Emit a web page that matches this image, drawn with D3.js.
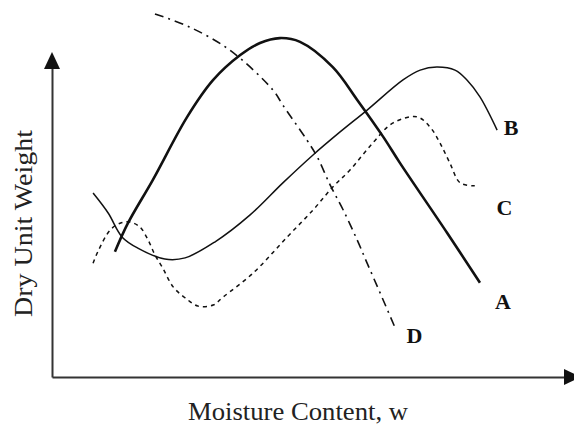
<!DOCTYPE html>
<html>
<head>
<meta charset="utf-8">
<script src="https://cdn.jsdelivr.net/npm/d3@7"></script>
<style>
  html, body { margin: 0; padding: 0; background: #fff; }
  svg { display: block; }
</style>
</head>
<body>
<div id="chart"></div>
<script>
// compaction curves (arbitrary units, x: 0-100, y: 0-100)
var curveA_w = [12.1, 14.6, 19.4, 26.0, 31.0, 36.2, 40.0, 43.8, 47.7, 54.0, 58.7, 63.7, 66.9, 76.0, 82.3];
var curveA_g = [33.2, 40.8, 52.3, 69.0, 78.8, 85.4, 88.6, 89.9, 88.9, 82.2, 73.5, 63.7, 56.8, 38.2, 25.0];

var curveB_w = [7.9, 10.8, 13.5, 16.5, 21.7, 25.6, 31.3, 38.1, 44.4, 50.2, 55.4, 60.6, 67.5, 70.8, 74.0, 77.5, 79.8, 82.3, 85.6];
var curveB_g = [48.8, 43.5, 37.1, 34.2, 31.3, 31.6, 35.8, 43.0, 51.5, 58.9, 65.0, 70.8, 78.8, 81.4, 82.2, 81.4, 78.8, 74.3, 65.5];

var curveC_w = [7.9, 8.8, 11.2, 13.1, 15.0, 16.9, 18.5, 19.8, 21.3, 23.3, 25.6, 28.1, 31.0, 32.9, 38.7, 45.2, 50.2, 54.0, 57.3, 61.7, 65.6, 70.2, 72.7, 74.6, 76.5, 78.5, 81.3];
var curveC_g = [30.2, 33.2, 39.0, 40.8, 41.1, 39.8, 36.3, 32.4, 28.9, 23.9, 21.0, 18.8, 19.1, 21.2, 27.6, 37.1, 44.3, 50.4, 54.9, 62.1, 67.4, 69.0, 66.3, 62.1, 56.8, 51.5, 50.7];

var curveD_w = [19.8, 26.5, 34.2, 42.5, 44.4, 49.0, 51.0, 53.5, 56.0, 58.7, 60.6, 63.1, 66.0];
var curveD_g = [96.3, 92.8, 86.7, 76.1, 72.1, 62.9, 58.4, 50.9, 44.3, 36.3, 30.2, 22.3, 13.0];

var curveNames = ["A", "B", "C", "D"];
// label anchor points (same units)
var labelW = [86.7, 88.3, 87.0, 69.7];
var labelG = [18.0, 64.2, 43.0, 9.0];

var xTitle = "Moisture Content, w";
var yTitle = "Dry Unit Weight";

var width = 574, height = 425;

var svg = d3.select("#chart").append("svg")
    .attr("width", width)
    .attr("height", height);

var x = d3.scaleLinear().domain([0, 100]).range([52, 572]);
var y = d3.scaleLinear().domain([0, 100]).range([377, 0]);

// axes, no ticks
svg.append("g")
    .attr("transform", "translate(0," + y(0) + ")")
    .call(d3.axisBottom(x.copy().range([52, 566])).ticks(0).tickSizeOuter(0));
svg.append("g")
    .attr("transform", "translate(" + x(0) + ",0)")
    .call(d3.axisLeft(y.copy().range([377, 62])).ticks(0).tickSizeOuter(0));

svg.selectAll(".domain")
    .attr("stroke", "#333")
    .attr("stroke-width", 2);

// arrow heads
var ox = x(0), oy = y(0);
svg.append("path")
    .attr("d", "M" + ox + ",52L" + (ox - 8) + ",69L" + (ox + 8) + ",69Z")
    .attr("fill", "#111");
svg.append("path")
    .attr("d", "M581," + oy + "L564," + (oy - 8) + "L564," + (oy + 8) + "Z")
    .attr("fill", "#111");

var line = d3.line()
    .x(d => x(d[0]))
    .y(d => y(d[1]))
    .curve(d3.curveCatmullRom.alpha(0.5));

function zipPts(ws, gs){
    return ws.map((w, i) => [w, gs[i]]);
}

var series = [
    {pts: zipPts(curveA_w, curveA_g), width: 2.6, dash: null},
    {pts: zipPts(curveB_w, curveB_g), width: 1.5, dash: null},
    {pts: zipPts(curveC_w, curveC_g), width: 1.5, dash: "4,4"},
    {pts: zipPts(curveD_w, curveD_g), width: 1.6, dash: "9,5,2,5"}
];

svg.selectAll(".curve")
    .data(series)
    .enter()
    .append("path")
        .attr("class", "curve")
        .attr("d", d => line(d.pts))
        .attr("fill", "none")
        .attr("stroke", "#111")
        .attr("stroke-width", d => d.width)
        .attr("stroke-dasharray", d => d.dash)
        .attr("stroke-linejoin", "round");

svg.selectAll(".lbl")
    .data(curveNames)
    .enter()
    .append("text")
        .attr("class", "lbl")
        .attr("x", (d, i) => x(labelW[i]))
        .attr("y", (d, i) => y(labelG[i]))
        .attr("text-anchor", "middle")
        .attr("font-family", "Liberation Serif, serif")
        .attr("font-weight", "bold")
        .attr("font-size", 22)
        .attr("fill", "#111")
        .text(d => d);

// axis titles
svg.append("text")
    .attr("x", 298)
    .attr("y", 420)
    .attr("text-anchor", "middle")
    .attr("font-family", "Liberation Serif, serif")
    .attr("font-size", 26)
    .attr("textLength", 220)
    .attr("lengthAdjust", "spacingAndGlyphs")
    .attr("fill", "#222")
    .text(xTitle);

svg.append("text")
    .attr("transform", "translate(32,223.5) rotate(-90)")
    .attr("text-anchor", "middle")
    .attr("font-family", "Liberation Serif, serif")
    .attr("font-size", 26)
    .attr("textLength", 187)
    .attr("lengthAdjust", "spacingAndGlyphs")
    .attr("fill", "#222")
    .text(yTitle);
</script>
</body>
</html>
